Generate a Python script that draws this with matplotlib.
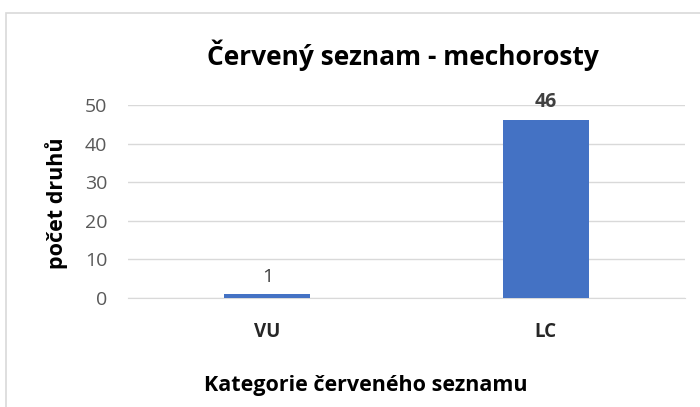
import matplotlib.pyplot as plt
from matplotlib.patches import Rectangle

categories = ["VU", "LC"]
counts = [1, 46]
yticks = [0, 10, 20, 30, 40, 50]

plt.rcParams['font.family'] = ['Open Sans', 'DejaVu Sans']

fig = plt.figure(figsize=(7, 4.07), dpi=100)
ax = fig.add_axes([128 / 700, 1 - 298 / 407, (685 - 128) / 700, (298 - 105) / 407])

# light frame around the whole chart, like the Excel chart area
fig.patches.append(Rectangle((6 / 700, -0.01), 0.995, 1 - 13 / 407 + 0.01,
                             transform=fig.transFigure, fill=False,
                             edgecolor='#d9d9d9', linewidth=1.2))

x = range(len(categories))
bars = ax.bar(x, counts, width=0.31, color='#4472c4', zorder=3)
ax.set_xlim(-0.5, 1.5)
ax.set_ylim(0, 50)
ax.set_yticks(yticks)
ax.grid(axis='y', color='#d9d9d9', linewidth=1, zorder=0)
ax.set_xticks(list(x))
ax.set_xticklabels(categories, fontsize=13.5, fontweight='bold', color='#262626')
ax.tick_params(axis='y', labelsize=14, labelcolor='#595959', length=0, pad=15)
ax.tick_params(axis='x', length=0, pad=17)
for s in ['top', 'right', 'left']:
    ax.spines[s].set_visible(False)
ax.spines['bottom'].set_color('#d9d9d9')

for b, v in zip(bars, counts):
    ax.annotate(str(v), (b.get_x() + b.get_width() / 2, v), xytext=(0, 6),
                textcoords='offset points', ha='center', va='bottom',
                fontsize=14, color='#404040',
                fontweight='bold' if v == max(counts) else 'normal')

fig.text(0.575, 1 - 55 / 407, "Červený seznam - mechorosty", ha='center', va='center',
         fontsize=19, fontweight='bold', color='black')
fig.text(0.523, 1 - 386 / 407, "Kategorie červeného seznamu", ha='center', va='center',
         fontsize=15.5, fontweight='bold', color='black')
fig.text(57 / 700, 1 - 203 / 407, "počet druhů", ha='center', va='center',
         rotation=90, fontsize=15.5, fontweight='bold', color='black')

fig.savefig("out.png", dpi=100)
